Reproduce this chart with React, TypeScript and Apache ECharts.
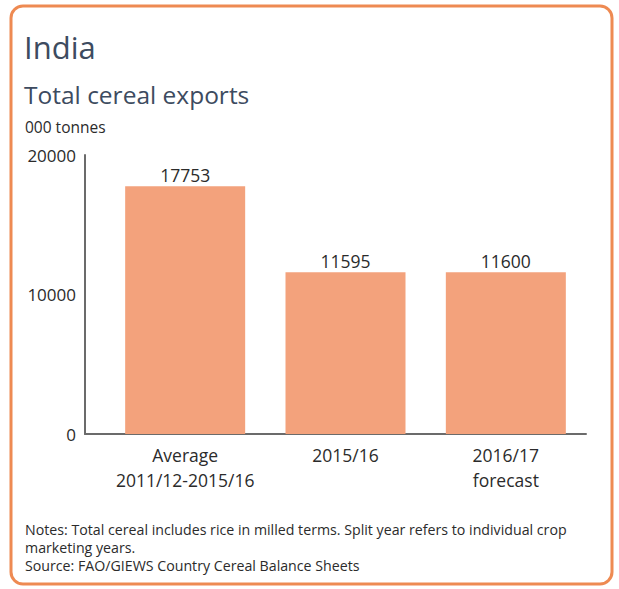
import React, { useEffect, useRef } from "react";
import * as echarts from "echarts";

const categories = ["Average\n2011/12-2015/16", "2015/16", "2016/17\nforecast"];
const exportsValues = [17753, 11595, 11600];
const yTicks = [0, 10000, 20000];
const titleText = "India";
const subtitleText = "Total cereal exports";
const unitText = "000 tonnes";
const notesLines = [
  "Notes: Total cereal includes rice in milled terms. Split year refers to individual crop",
  "marketing years.",
  "Source: FAO/GIEWS Country Cereal Balance Sheets",
];

const FONT = "'Open Sans', Lato, sans-serif";

export default function App() {
  const ref = useRef<HTMLDivElement>(null);
  useEffect(() => {
    if (!ref.current) return;
    const chart = echarts.init(ref.current, undefined, { renderer: "svg" });
    const yMin = yTicks[0];
    const yMax = yTicks[yTicks.length - 1];
    const interval = yTicks[1] - yTicks[0];
    chart.setOption({
      animation: false,
      backgroundColor: "#ffffff",
      textStyle: { fontFamily: FONT },
      grid: [
        { left: 85, right: 33, top: 155, bottom: 155 },
        { left: 105, right: 33, top: 155, bottom: 155 },
      ],
      xAxis: [
        {
          gridIndex: 0,
          type: "category",
          data: [""],
          axisLine: { show: true, lineStyle: { color: "#6b6b6b", width: 2 } },
          axisTick: { show: false },
          axisLabel: { show: false },
        },
        {
          gridIndex: 1,
          type: "category",
          data: categories,
          axisLine: { show: false },
          axisTick: { show: false },
          axisLabel: {
            interval: 0,
            margin: 8,
            fontSize: 17.5,
            lineHeight: 25,
            color: "#2b2b2b",
            fontFamily: FONT,
          },
        },
      ],
      yAxis: [
        {
          gridIndex: 0,
          type: "value",
          min: yMin,
          max: yMax,
          interval,
          axisLine: { show: true, lineStyle: { color: "#6b6b6b", width: 2 } },
          axisTick: { show: false },
          splitLine: { show: false },
          axisLabel: {
            margin: 9,
            fontSize: 17,
            color: "#2b2b2b",
            fontFamily: FONT,
            formatter: (v: number) => String(v),
          },
        },
        {
          gridIndex: 1,
          type: "value",
          min: yMin,
          max: yMax,
          interval,
          show: false,
          splitLine: { show: false },
        },
      ],
      series: [
        {
          type: "bar",
          xAxisIndex: 1,
          yAxisIndex: 1,
          data: exportsValues,
          barWidth: 120,
          itemStyle: { color: "#F3A27C" },
          label: {
            show: true,
            position: "top",
            distance: 2,
            fontSize: 17.5,
            color: "#2b2b2b",
            fontFamily: FONT,
          },
        },
      ],
      graphic: [
        {
          type: "rect",
          z: -10,
          shape: { x: 11, y: 6, width: 601, height: 578, r: 12 },
          style: { fill: "#ffffff", stroke: "#EE8A52", lineWidth: 3 },
        },
        {
          type: "text",
          x: 24,
          y: 46.5,
          style: {
            text: titleText,
            fontSize: 31,
            fill: "#3d4b60",
            fontFamily: FONT,
            verticalAlign: "middle",
          },
        },
        {
          type: "text",
          x: 24,
          y: 94,
          style: {
            text: subtitleText,
            fontSize: 24.5,
            fill: "#3d4b60",
            fontFamily: FONT,
            verticalAlign: "middle",
          },
        },
        {
          type: "text",
          x: 25,
          y: 127,
          style: {
            text: unitText,
            fontSize: 15.5,
            fill: "#2b2b2b",
            fontFamily: FONT,
            verticalAlign: "middle",
          },
        },
        {
          type: "text",
          x: 25,
          y: 520,
          style: {
            text: notesLines.join("\n"),
            fontSize: 14.2,
            lineHeight: 18,
            fill: "#2b2b2b",
            fontFamily: FONT,
            verticalAlign: "top",
          },
        },
      ],
    });
    return () => chart.dispose();
  }, []);
  return (
    <div
      ref={ref}
      style={{ position: "fixed", left: 0, top: 0, width: 619, height: 589 }}
    />
  );
}
